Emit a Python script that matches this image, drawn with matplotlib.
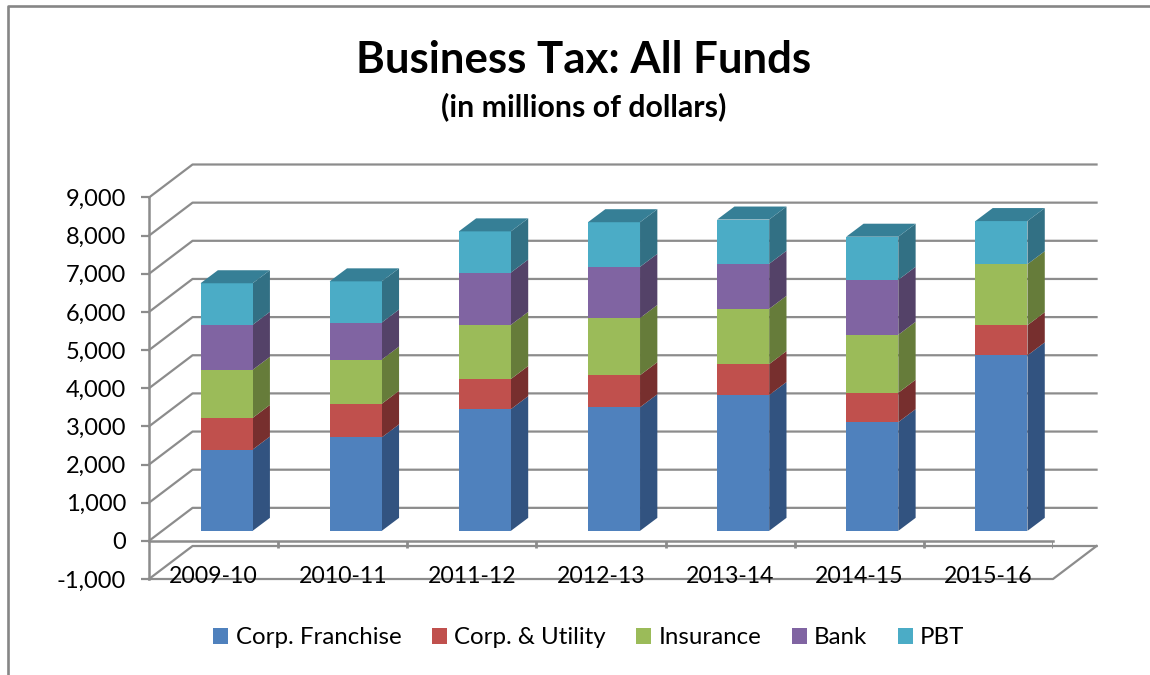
import numpy as np
import matplotlib
matplotlib.use('Agg')
import matplotlib.pyplot as plt
from matplotlib.patches import Polygon
from matplotlib.transforms import Affine2D

years = ['2009-10', '2010-11', '2011-12', '2012-13', '2013-14', '2014-15', '2015-16']
franchise = [2130, 2450, 3190, 3240, 3560, 2850, 4600]
utility = [830, 880, 790, 840, 810, 770, 790]
insurance = [1260, 1160, 1420, 1500, 1450, 1520, 1600]
bank = [1180, 970, 1370, 1340, 1180, 1440, 0]
pbt = [1090, 1080, 1080, 1170, 1160, 1130, 1130]

names = ['Corp. Franchise', 'Corp. & Utility', 'Insurance', 'Bank', 'PBT']
series = [franchise, utility, insurance, bank, pbt]
colors = ['#4F81BD', '#C0504D', '#9BBB59', '#8064A2', '#4BACC6']
sides = ['#325380', '#772F2E', '#667C3A', '#544268', '#327084']
top_color = '#367F96'
grey = '#8C8C8C'

plt.rcParams['font.family'] = 'Lato'

fig = plt.figure(figsize=(11.5, 6.75), dpi=100)
ax = fig.add_axes([149 / 1150, (675 - 579) / 675, 904 / 1150, 381.5 / 675])
ax.set_xlim(-0.5, 6.5)
ax.set_ylim(-1000, 9000)
for s in ax.spines.values():
    s.set_visible(False)

# depth of the fake 3d box, in data units
wall_dx = 43.5 / 129
wall_dy = 865
bar_dx = 17.3 / 129
bar_dy = 341
bar_w = 52 / 129

levels = np.arange(-1000, 10000, 1000)
for v in levels:
    ax.plot([-0.5, -0.5 + wall_dx, 6.5 + wall_dx], [v, v + wall_dy, v + wall_dy],
            color=grey, lw=1.6, clip_on=False, zorder=1)
ax.plot([-0.5, 6.5, 6.5 + wall_dx], [-1000, -1000, -1000 + wall_dy],
        color=grey, lw=1.6, clip_on=False, zorder=1)
ax.plot([-0.5, -0.5], [-1000, 9000], color=grey, lw=1.8, clip_on=False, zorder=2)
ax.plot([-0.5, 6.5], [0, 0], color=grey, lw=1.8, clip_on=False, zorder=2)

ax.set_yticks(levels)
ax.set_yticklabels([f'{v:,}' for v in levels], fontsize=17, color='black')
ax.tick_params(axis='y', length=6, width=1.6, color=grey, pad=10.5)

boundaries = np.arange(-0.5, 7.5, 1)
ax.set_xticks([])
ax.vlines(boundaries[1:], -190, 0, color=grey, lw=2, zorder=2)
for i, y in enumerate(years):
    ax.text(i, -930, y, ha='center', va='center', fontsize=16.6, zorder=6)

# bars sit halfway into the box depth
shift = ax.transData + Affine2D().translate(13, 10)
x = np.arange(len(years))
bottom = np.zeros(len(years))
for k, vals in enumerate(series):
    vals = np.array(vals)
    ax.bar(x, vals, bar_w, bottom=bottom, color=colors[k], label=names[k],
           transform=shift, zorder=4, clip_on=False)
    for i in x:
        xr = i + bar_w / 2
        y0 = bottom[i]
        y1 = y0 + vals[i]
        side = Polygon([(xr, y0), (xr + bar_dx, y0 + bar_dy), (xr + bar_dx, y1 + bar_dy), (xr, y1)],
                       closed=True, fc=sides[k], ec='none', transform=shift, zorder=3 + 0.1 * k, clip_on=False)
        ax.add_patch(side)
    bottom = bottom + vals

for i in x:
    xl = i - bar_w / 2
    xr = i + bar_w / 2
    t = bottom[i]
    ax.add_patch(Polygon([(xl, t), (xr, t), (xr + bar_dx, t + bar_dy), (xl + bar_dx, t + bar_dy)],
                         closed=True, fc=top_color, ec='none', transform=shift, zorder=4, clip_on=False))

fig.legend(loc='center', bbox_to_anchor=(589 / 1150, 1 - 638 / 675), ncol=5, frameon=False,
           fontsize=17.3, handlelength=0.62, handleheight=0.62, handletextpad=0.3, columnspacing=1.28,
           labelcolor='black')

fig.text(584 / 1150, 1 - 60 / 675, 'Business Tax: All Funds', ha='center', va='center',
         fontsize=31.5, fontweight='bold')
fig.text(584 / 1150, 1 - 107 / 675, '(in millions of dollars)', ha='center', va='center',
         fontsize=21.8, fontweight='bold')

# chart frame, cut off at the top left
fig.add_artist(plt.Line2D([8 / 1150, 8 / 1150, 1], [0, 1 - 6 / 675, 1 - 6 / 675], color='#868686', lw=1.9))

fig.savefig('out.png', dpi=100)
